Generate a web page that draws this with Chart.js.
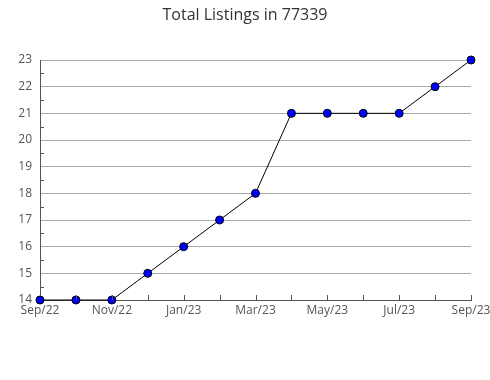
<!DOCTYPE html>
<html>
<head>
<meta charset="utf-8">
<script src="https://cdn.jsdelivr.net/npm/chart.js@4"></script>
<style>
  html, body { margin: 0; padding: 0; background: #fff; }
  #wrap { width: 490px; height: 380px; }
</style>
</head>
<body>
<div id="wrap"><canvas id="chart" width="490" height="380"></canvas></div>
<script>
const months = ["Sep/22", "Oct/22", "Nov/22", "Dec/22", "Jan/23", "Feb/23", "Mar/23",
                "Apr/23", "May/23", "Jun/23", "Jul/23", "Aug/23", "Sep/23"];
const listings = [14, 14, 14, 15, 16, 17, 18, 21, 21, 21, 21, 22, 23];
const yMin = 14;
const yMax = 23;

// short tick marks drawn inward from the axes
const innerTicks = {
    id: "innerTicks",
    afterDatasetsDraw(chart) {
        const ctx = chart.ctx;
        const x = chart.scales.x;
        const y = chart.scales.y;
        const area = chart.chartArea;
        ctx.save();
        ctx.strokeStyle = "#555";
        ctx.lineWidth = 1;
        ctx.beginPath();
        for (let i = 1; i < months.length; i++) {
            const px = Math.round(x.getPixelForValue(i)) + 0.5;
            ctx.moveTo(px, area.bottom);
            ctx.lineTo(px, area.bottom - 5);
        }
        for (let v = yMin + 0.5; v < yMax; v += 1) {
            const py = Math.round(y.getPixelForValue(v)) + 0.5;
            ctx.moveTo(area.left, py);
            ctx.lineTo(area.left + 4, py);
        }
        ctx.stroke();
        ctx.restore();
    }
};

new Chart(document.getElementById("chart").getContext("2d"), {
    type: "line",
    data: {
        labels: months,
        datasets: [{
            label: "Total Listings",
            data: listings,
            borderColor: "#000",
            borderWidth: 1,
            pointRadius: 4,
            pointBackgroundColor: "#0000ff",
            pointBorderColor: "#000",
            pointBorderWidth: 1,
            tension: 0,
            fill: false,
            clip: false
        }]
    },
    options: {
        responsive: false,
        animation: false,
        maintainAspectRatio: false,
        layout: { padding: 0 },
        scales: {
            x: {
                type: "category",
                offset: false,
                grid: { display: true, drawOnChartArea: false, drawTicks: false },
                border: { display: true, color: "#555", width: 1 },
                ticks: {
                    autoSkip: false,
                    maxRotation: 0,
                    padding: 3,
                    color: "#555",
                    font: { family: "Open Sans", size: 12 },
                    callback: (v, i) => (i % 2 === 0 ? months[i] : "")
                },
                afterFit: s => {
                    s.height = 80;
                    s.paddingLeft = 0;
                    s.paddingRight = 19;
                }
            },
            y: {
                min: yMin,
                max: yMax,
                ticks: {
                    stepSize: 0.5,
                    padding: 8,
                    color: "#555",
                    font: { family: "Open Sans", size: 12 },
                    callback: v => (Number.isInteger(v) ? v : "")
                },
                grid: {
                    drawTicks: false,
                    color: c => (Number.isInteger(c.tick.value) && c.tick.value > yMin ? "#aaa" : "rgba(0,0,0,0)")
                },
                border: { display: true, color: "#555", width: 1 },
                afterFit: s => { s.width = 40; }
            }
        },
        plugins: {
            legend: { display: false },
            tooltip: { enabled: false },
            title: {
                display: true,
                text: "Total Listings in 77339",
                color: "#333",
                font: { family: "Open Sans", size: 16, weight: "normal" },
                padding: { top: 6, bottom: 34.8 }
            }
        }
    },
    plugins: [innerTicks]
});
</script>
</body>
</html>
